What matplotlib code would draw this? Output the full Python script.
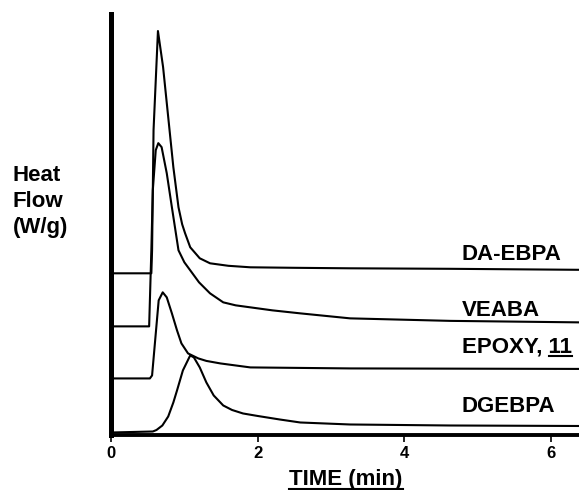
import matplotlib
matplotlib.use("Agg")
import matplotlib.pyplot as plt
from matplotlib.lines import Line2D

# time (min) and heat flow (arbitrary units)
da_ebpa_t = [0.0, 0.53, 0.55, 0.56, 0.58, 0.64, 0.71, 0.78, 0.85, 0.92, 0.97, 1.01, 1.08,
             1.21, 1.35, 1.60, 1.90, 2.50, 3.26, 4.62, 6.38]
da_ebpa_q = [16.1, 16.1, 16.1, 18.4, 30.4, 40.3, 36.7, 31.7, 26.7, 22.7, 21.0, 20.1, 18.7,
             17.6, 17.1, 16.85, 16.7, 16.65, 16.6, 16.55, 16.45]

veaba_t = [0.0, 0.52, 0.55, 0.57, 0.61, 0.645, 0.69, 0.76, 0.83, 0.92, 1.00, 1.08, 1.20,
           1.35, 1.53, 1.70, 1.90, 2.20, 2.58, 3.26, 4.62, 6.38]
veaba_q = [10.8, 10.8, 18.4, 24.4, 28.4, 29.1, 28.7, 26.1, 22.7, 18.4, 17.2, 16.4, 15.2,
           14.1, 13.2, 12.9, 12.7, 12.4, 12.1, 11.6, 11.35, 11.2]

epoxy_t = [0.0, 0.53, 0.56, 0.65, 0.705, 0.76, 0.83, 0.90, 0.96, 1.05, 1.19, 1.30, 1.49,
           1.90, 3.26, 6.38]
epoxy_q = [5.6, 5.6, 5.9, 13.4, 14.2, 13.7, 12.1, 10.4, 9.1, 8.1, 7.6, 7.35, 7.1,
           6.7, 6.6, 6.55]

dgebpa_t = [0.0, 0.57, 0.62, 0.70, 0.78, 0.85, 0.90, 0.98, 1.08, 1.13, 1.21, 1.30, 1.40,
            1.53, 1.65, 1.80, 2.00, 2.30, 2.58, 3.26, 4.62, 6.38]
dgebpa_q = [0.2, 0.3, 0.45, 0.9, 1.8, 3.2, 4.4, 6.4, 7.9, 7.7, 6.7, 5.2, 3.9,
            2.9, 2.45, 2.1, 1.85, 1.5, 1.2, 1.0, 0.9, 0.85]

x_ticks = [0, 2, 4, 6]
curve_names = ["DA-EBPA", "VEABA", "EPOXY, 11", "DGEBPA"]
y_label_lines = ["Heat", "Flow", "(W/g)"]

W, H = 579, 490
FONT = "Liberation Sans"


def fx(px):
    return px / W


def fy(py):
    return 1 - py / H


fig = plt.figure(figsize=(W / 100, H / 100), dpi=100)
ax = fig.add_axes([fx(111), fy(434.5), 1 - fx(111), (434.5 - 14) / H])

for t, q in [(da_ebpa_t, da_ebpa_q), (veaba_t, veaba_q),
             (epoxy_t, epoxy_q), (dgebpa_t, dgebpa_q)]:
    ax.plot(t, q, color="black", linewidth=1.5, solid_joinstyle="round")

ax.set_xlim(0, 6.38)
ax.set_ylim(0, 42.0)
for side in ("top", "right"):
    ax.spines[side].set_visible(False)
ax.spines["left"].set_linewidth(3.6)
ax.spines["bottom"].set_linewidth(2.8)
ax.set_yticks([])
ax.set_xticks(x_ticks)
ax.set_xticklabels([str(v) for v in x_ticks], fontfamily=FONT,
                   fontweight="bold", fontsize=12)
ax.tick_params(axis="x", direction="out", length=5, width=1.2, pad=3)

# curve labels, left aligned, baselines in pixels
label_base = [260, 316, 353, 412]
texts = []
for name, base in zip(curve_names, label_base):
    texts.append(fig.text(fx(462), fy(base), name, ha="left", va="baseline",
                          fontsize=16, fontweight="bold", fontfamily=FONT))

for line, base in zip(y_label_lines, [181, 207, 233]):
    fig.text(fx(13), fy(base), line, ha="left", va="baseline",
             fontsize=16, fontweight="bold", fontfamily=FONT)

xlab = fig.text(fx(346), fy(485), "TIME (min)", ha="center", va="baseline",
                fontsize=16, fontweight="bold", fontfamily=FONT)

fig.canvas.draw()
renderer = fig.canvas.get_renderer()
inv = fig.transFigure.inverted()


def underline(x0_px, x1_px, y_px):
    (a, b), (c, d) = inv.transform([(x0_px, y_px), (x1_px, y_px)])
    fig.add_artist(Line2D([a, c], [b, d], color="black", linewidth=1.5,
                          transform=fig.transFigure))


bb = xlab.get_window_extent(renderer)
underline(bb.x0, bb.x1, H - 488.5)

# underline only the compound number "11"
epoxy = texts[2]
bb = epoxy.get_window_extent(renderer)
probe = fig.text(0, 0, "11", fontsize=16, fontweight="bold", fontfamily=FONT)
w11 = probe.get_window_extent(renderer).width
probe.remove()
underline(bb.x1 - w11, bb.x1, H - 356)

fig.savefig("out.png", dpi=100)
